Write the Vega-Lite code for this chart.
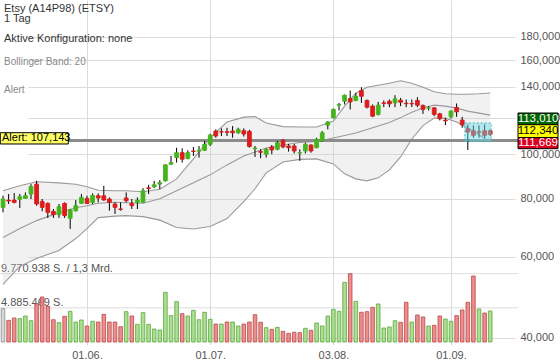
{
  "$schema": "https://vega.github.io/schema/vega-lite/v6.json",
  "width": 518,
  "height": 345,
  "autosize": "none",
  "padding": {"left": 0, "top": 0, "right": 42, "bottom": 17},
  "background": "white",
  "config": {
    "font": "Liberation Sans",
    "view": {"stroke": null},
    "locale": {"number": {"decimal": ",", "thousands": ".", "grouping": [3], "currency": ["", " €"]}},
    "axis": {"labelFont": "Liberation Sans", "labelFontSize": 11, "labelColor": "#555555", "gridColor": "#dcdcdc", "domain": false, "ticks": false, "title": null},
    "scale": {"round": false}
  },
  "title": {
    "text": ["Etsy (A14P98) (ETSY)", "1 Tag", "\u200b", "Aktive Konfiguration: none"],
    "subtitle": ["Bollinger Band: 20", "\u200b", "\u200b", "Alert"],
    "anchor": "start", "frame": "group", "orient": "top", "offset": -95, "dx": 4,
    "fontSize": 11, "fontWeight": "normal", "color": "#333333", "lineHeight": 10,
    "subtitleFontSize": 10, "subtitleColor": "#888888", "subtitleLineHeight": 9.5, "subtitlePadding": 13
  },
  "datasets": {
    "candles": [
      {"d":"2020-05-08","o":76.69,"h":81.29,"l":74.82,"c":79.97,"v":4760000,"dir":"up","vdir":"flat"},
      {"d":"2020-05-11","o":79.57,"h":81.98,"l":78.0,"c":79.17,"v":3100000,"dir":"down","vdir":"down"},
      {"d":"2020-05-12","o":79.57,"h":82.39,"l":78.24,"c":78.63,"v":3430000,"dir":"down","vdir":"down"},
      {"d":"2020-05-13","o":79.81,"h":81.98,"l":76.47,"c":80.89,"v":3340000,"dir":"up","vdir":"up"},
      {"d":"2020-05-14","o":80.21,"h":82.64,"l":79.97,"c":81.29,"v":3720000,"dir":"up","vdir":"up"},
      {"d":"2020-05-15","o":81.98,"h":86.14,"l":79.97,"c":85.13,"v":3050000,"dir":"up","vdir":"up"},
      {"d":"2020-05-18","o":86.14,"h":87.57,"l":77.35,"c":78.0,"v":5480000,"dir":"down","vdir":"down"},
      {"d":"2020-05-19","o":79.02,"h":79.97,"l":75.19,"c":76.69,"v":6440000,"dir":"down","vdir":"down"},
      {"d":"2020-05-20","o":78.24,"h":78.63,"l":72.77,"c":74.82,"v":5100000,"dir":"down","vdir":"down"},
      {"d":"2020-05-21","o":75.19,"h":76.09,"l":72.77,"c":73.97,"v":3190000,"dir":"down","vdir":"down"},
      {"d":"2020-05-22","o":73.97,"h":78.0,"l":72.77,"c":76.96,"v":2770000,"dir":"up","vdir":"up"},
      {"d":"2020-05-26","o":78.24,"h":78.63,"l":72.77,"c":73.6,"v":3670000,"dir":"down","vdir":"down"},
      {"d":"2020-05-27","o":72.63,"h":76.09,"l":68.9,"c":75.72,"v":4390000,"dir":"up","vdir":"up"},
      {"d":"2020-05-28","o":75.45,"h":79.57,"l":75.08,"c":77.35,"v":2860000,"dir":"up","vdir":"up"},
      {"d":"2020-05-29","o":78.24,"h":81.98,"l":78.0,"c":80.61,"v":3150000,"dir":"up","vdir":"up"},
      {"d":"2020-06-01","o":80.21,"h":81.29,"l":78.0,"c":78.24,"v":2290000,"dir":"down","vdir":"down"},
      {"d":"2020-06-02","o":78.63,"h":82.23,"l":78.0,"c":81.41,"v":2960000,"dir":"up","vdir":"up"},
      {"d":"2020-06-03","o":81.29,"h":82.23,"l":78.63,"c":80.37,"v":2860000,"dir":"down","vdir":"down"},
      {"d":"2020-06-04","o":81.29,"h":85.42,"l":79.29,"c":79.57,"v":3960000,"dir":"down","vdir":"down"},
      {"d":"2020-06-05","o":79.97,"h":80.61,"l":75.45,"c":78.63,"v":2860000,"dir":"down","vdir":"down"},
      {"d":"2020-06-08","o":78.0,"h":78.63,"l":74.23,"c":76.69,"v":2860000,"dir":"down","vdir":"down"},
      {"d":"2020-06-09","o":76.09,"h":78.63,"l":75.45,"c":75.94,"v":2190000,"dir":"down","vdir":"down"},
      {"d":"2020-06-10","o":80.37,"h":82.64,"l":78.63,"c":79.29,"v":4340000,"dir":"down","vdir":"up"},
      {"d":"2020-06-11","o":78.24,"h":79.97,"l":76.09,"c":77.35,"v":3720000,"dir":"down","vdir":"down"},
      {"d":"2020-06-12","o":78.63,"h":80.61,"l":76.09,"c":79.57,"v":2530000,"dir":"up","vdir":"up"},
      {"d":"2020-06-15","o":78.63,"h":84.45,"l":78.51,"c":83.33,"v":4200000,"dir":"up","vdir":"up"},
      {"d":"2020-06-16","o":84.58,"h":85.85,"l":81.98,"c":84.29,"v":2530000,"dir":"down","vdir":"up"},
      {"d":"2020-06-17","o":85.0,"h":87.57,"l":84.45,"c":85.85,"v":1860000,"dir":"up","vdir":"up"},
      {"d":"2020-06-18","o":86.14,"h":87.87,"l":84.03,"c":86.83,"v":1720000,"dir":"up","vdir":"up"},
      {"d":"2020-06-19","o":87.57,"h":95.15,"l":87.27,"c":94.82,"v":7110000,"dir":"up","vdir":"up"},
      {"d":"2020-06-22","o":95.15,"h":99.16,"l":94.82,"c":95.91,"v":3770000,"dir":"up","vdir":"up"},
      {"d":"2020-06-23","o":98.33,"h":103.33,"l":95.91,"c":100.79,"v":5770000,"dir":"up","vdir":"up"},
      {"d":"2020-06-24","o":100.79,"h":103.03,"l":95.91,"c":97.55,"v":4050000,"dir":"down","vdir":"down"},
      {"d":"2020-06-25","o":97.84,"h":102.01,"l":97.55,"c":100.79,"v":3720000,"dir":"up","vdir":"up"},
      {"d":"2020-06-26","o":101.65,"h":103.69,"l":99.16,"c":101.4,"v":4530000,"dir":"down","vdir":"up"},
      {"d":"2020-06-29","o":101.5,"h":104.21,"l":98.33,"c":102.01,"v":3190000,"dir":"up","vdir":"up"},
      {"d":"2020-06-30","o":102.01,"h":106.83,"l":101.65,"c":105.09,"v":4250000,"dir":"up","vdir":"up"},
      {"d":"2020-07-01","o":105.09,"h":110.77,"l":104.21,"c":110.06,"v":3240000,"dir":"up","vdir":"up"},
      {"d":"2020-07-02","o":112.27,"h":113.23,"l":108.59,"c":109.52,"v":2570000,"dir":"down","vdir":"down"},
      {"d":"2020-07-06","o":111.88,"h":113.79,"l":109.52,"c":111.71,"v":2570000,"dir":"down","vdir":"up"},
      {"d":"2020-07-07","o":111.88,"h":114.13,"l":109.52,"c":111.54,"v":2860000,"dir":"down","vdir":"down"},
      {"d":"2020-07-08","o":112.27,"h":115.1,"l":108.59,"c":111.32,"v":2860000,"dir":"down","vdir":"up"},
      {"d":"2020-07-09","o":111.32,"h":114.13,"l":110.77,"c":113.23,"v":2290000,"dir":"up","vdir":"up"},
      {"d":"2020-07-10","o":112.49,"h":113.79,"l":109.24,"c":110.61,"v":2570000,"dir":"down","vdir":"down"},
      {"d":"2020-07-13","o":112.1,"h":112.94,"l":103.33,"c":103.95,"v":2860000,"dir":"down","vdir":"down"},
      {"d":"2020-07-14","o":102.82,"h":104.21,"l":98.67,"c":103.18,"v":3910000,"dir":"up","vdir":"down"},
      {"d":"2020-07-15","o":101.3,"h":102.52,"l":98.03,"c":101.0,"v":2820000,"dir":"down","vdir":"down"},
      {"d":"2020-07-16","o":100.0,"h":103.03,"l":98.33,"c":102.52,"v":2050000,"dir":"up","vdir":"up"},
      {"d":"2020-07-17","o":103.69,"h":104.73,"l":100.0,"c":102.16,"v":1810000,"dir":"down","vdir":"down"},
      {"d":"2020-07-20","o":102.52,"h":106.83,"l":102.01,"c":105.93,"v":2100000,"dir":"up","vdir":"up"},
      {"d":"2020-07-21","o":107.2,"h":107.74,"l":103.03,"c":103.69,"v":1530000,"dir":"down","vdir":"down"},
      {"d":"2020-07-22","o":104.21,"h":105.3,"l":101.3,"c":103.33,"v":1240000,"dir":"down","vdir":"down"},
      {"d":"2020-07-23","o":104.21,"h":105.3,"l":100.39,"c":101.65,"v":1390000,"dir":"down","vdir":"down"},
      {"d":"2020-07-24","o":100.64,"h":102.52,"l":96.72,"c":100.79,"v":1340000,"dir":"up","vdir":"down"},
      {"d":"2020-07-27","o":101.65,"h":105.93,"l":100.39,"c":105.09,"v":1960000,"dir":"up","vdir":"up"},
      {"d":"2020-07-28","o":104.73,"h":105.09,"l":100.79,"c":101.65,"v":1670000,"dir":"down","vdir":"down"},
      {"d":"2020-07-29","o":103.33,"h":108.59,"l":103.03,"c":107.74,"v":2720000,"dir":"up","vdir":"up"},
      {"d":"2020-07-30","o":106.83,"h":112.27,"l":106.46,"c":111.32,"v":2290000,"dir":"up","vdir":"up"},
      {"d":"2020-07-31","o":115.67,"h":117.99,"l":113.23,"c":117.41,"v":3720000,"dir":"up","vdir":"up"},
      {"d":"2020-08-03","o":119.95,"h":125.68,"l":119.59,"c":125.06,"v":4670000,"dir":"up","vdir":"up"},
      {"d":"2020-08-04","o":127.76,"h":129.22,"l":124.44,"c":128.2,"v":4390000,"dir":"up","vdir":"up"},
      {"d":"2020-08-05","o":130.32,"h":134.74,"l":128.2,"c":134.27,"v":8540000,"dir":"up","vdir":"up"},
      {"d":"2020-08-06","o":132.09,"h":137.43,"l":125.06,"c":129.86,"v":9770938,"dir":"down","vdir":"down"},
      {"d":"2020-08-07","o":130.79,"h":135.83,"l":130.32,"c":133.61,"v":5820000,"dir":"up","vdir":"up"},
      {"d":"2020-08-10","o":137.43,"h":139.71,"l":129.22,"c":133.61,"v":4250000,"dir":"down","vdir":"down"},
      {"d":"2020-08-11","o":130.79,"h":131.44,"l":125.68,"c":126.5,"v":4340000,"dir":"down","vdir":"down"},
      {"d":"2020-08-12","o":127.13,"h":128.2,"l":120.36,"c":120.96,"v":4960000,"dir":"down","vdir":"down"},
      {"d":"2020-08-13","o":121.99,"h":129.86,"l":121.38,"c":127.76,"v":5440000,"dir":"up","vdir":"up"},
      {"d":"2020-08-14","o":129.22,"h":130.79,"l":126.5,"c":128.84,"v":2000000,"dir":"down","vdir":"up"},
      {"d":"2020-08-17","o":130.32,"h":131.44,"l":126.5,"c":128.58,"v":2150000,"dir":"down","vdir":"up"},
      {"d":"2020-08-18","o":129.22,"h":134.27,"l":126.5,"c":131.84,"v":3050000,"dir":"up","vdir":"up"},
      {"d":"2020-08-19","o":130.99,"h":132.49,"l":127.13,"c":129.67,"v":2820000,"dir":"down","vdir":"down"},
      {"d":"2020-08-20","o":129.03,"h":131.44,"l":126.5,"c":128.71,"v":5680000,"dir":"down","vdir":"down"},
      {"d":"2020-08-21","o":128.84,"h":131.44,"l":126.5,"c":128.58,"v":2860000,"dir":"down","vdir":"up"},
      {"d":"2020-08-24","o":130.79,"h":132.95,"l":126.5,"c":127.76,"v":3860000,"dir":"down","vdir":"down"},
      {"d":"2020-08-25","o":127.57,"h":128.2,"l":122.34,"c":125.06,"v":3580000,"dir":"down","vdir":"down"},
      {"d":"2020-08-26","o":125.87,"h":127.13,"l":124.44,"c":126.06,"v":2290000,"dir":"up","vdir":"up"},
      {"d":"2020-08-27","o":126.06,"h":126.5,"l":120.96,"c":121.99,"v":2390000,"dir":"down","vdir":"down"},
      {"d":"2020-08-28","o":122.34,"h":122.95,"l":118.4,"c":119.35,"v":3720000,"dir":"down","vdir":"down"},
      {"d":"2020-08-31","o":118.58,"h":119.95,"l":115.67,"c":118.17,"v":3290000,"dir":"down","vdir":"up"},
      {"d":"2020-09-01","o":120.54,"h":124.44,"l":119.59,"c":124.06,"v":2960000,"dir":"up","vdir":"up"},
      {"d":"2020-09-02","o":126.31,"h":128.84,"l":120.54,"c":123.57,"v":3770000,"dir":"down","vdir":"down"},
      {"d":"2020-09-03","o":118.58,"h":120.54,"l":114.13,"c":115.84,"v":4580000,"dir":"down","vdir":"down"},
      {"d":"2020-09-04","o":113.57,"h":116.02,"l":102.16,"c":111.71,"v":5680000,"dir":"down","vdir":"down"},
      {"d":"2020-09-08","o":112.44,"h":115.44,"l":108.59,"c":109.9,"v":9440000,"dir":"down","vdir":"down"},
      {"d":"2020-09-09","o":111.82,"h":115.44,"l":108.59,"c":111.6,"v":4720000,"dir":"down","vdir":"up"},
      {"d":"2020-09-10","o":112.44,"h":116.02,"l":108.59,"c":109.9,"v":4150000,"dir":"down","vdir":"down"},
      {"d":"2020-09-11","o":112.44,"h":113.23,"l":109.52,"c":110.44,"v":4430000,"dir":"down","vdir":"up"}
    ],
    "bands": [
      {"d":"2020-05-08","up":83.33,"mid":65.97,"lo":52.24},
      {"d":"2020-05-13","up":85.42,"mid":69.0,"lo":57.13},
      {"d":"2020-05-18","up":87.14,"mid":71.79,"lo":59.44},
      {"d":"2020-05-22","up":86.7,"mid":74.71,"lo":61.85},
      {"d":"2020-05-28","up":86.06,"mid":76.58,"lo":65.65},
      {"d":"2020-06-01","up":85.0,"mid":77.35,"lo":69.0},
      {"d":"2020-06-03","up":83.54,"mid":78.32,"lo":72.88},
      {"d":"2020-06-08","up":83.33,"mid":78.7,"lo":73.42},
      {"d":"2020-06-10","up":83.33,"mid":78.51,"lo":73.6},
      {"d":"2020-06-15","up":82.92,"mid":78.32,"lo":73.24},
      {"d":"2020-06-18","up":83.95,"mid":80.09,"lo":71.97},
      {"d":"2020-06-23","up":88.44,"mid":83.33,"lo":69.34},
      {"d":"2020-06-26","up":97.69,"mid":86.7,"lo":68.83},
      {"d":"2020-07-01","up":108.7,"mid":90.22,"lo":69.69},
      {"d":"2020-07-07","up":117.41,"mid":94.82,"lo":72.52},
      {"d":"2020-07-10","up":120.36,"mid":99.16,"lo":78.9},
      {"d":"2020-07-14","up":120.66,"mid":101.15,"lo":84.16},
      {"d":"2020-07-16","up":116.83,"mid":103.18,"lo":91.12},
      {"d":"2020-07-21","up":114.81,"mid":104.73,"lo":96.24},
      {"d":"2020-07-24","up":114.53,"mid":106.03,"lo":97.45},
      {"d":"2020-07-29","up":114.53,"mid":106.56,"lo":97.69},
      {"d":"2020-08-03","up":117.99,"mid":108.43,"lo":95.29},
      {"d":"2020-08-05","up":127.13,"mid":109.79,"lo":90.67},
      {"d":"2020-08-07","up":135.61,"mid":111.16,"lo":88.44},
      {"d":"2020-08-11","up":139.71,"mid":113.11,"lo":87.57},
      {"d":"2020-08-13","up":141.1,"mid":115.1,"lo":88.88},
      {"d":"2020-08-17","up":142.51,"mid":117.12,"lo":92.49},
      {"d":"2020-08-19","up":144.29,"mid":120.06,"lo":98.67},
      {"d":"2020-08-21","up":142.51,"mid":123.38,"lo":107.9},
      {"d":"2020-08-25","up":139.71,"mid":126.18,"lo":115.38},
      {"d":"2020-08-27","up":136.62,"mid":127.76,"lo":119.77},
      {"d":"2020-08-31","up":135.27,"mid":127.13,"lo":119.77},
      {"d":"2020-09-02","up":134.94,"mid":125.87,"lo":117.41},
      {"d":"2020-09-04","up":134.94,"mid":124.0,"lo":113.96},
      {"d":"2020-09-09","up":135.27,"mid":122.77,"lo":110.06},
      {"d":"2020-09-11","up":135.81,"mid":121.56,"lo":106.3}
    ],
    "vlevels": [
      {"lvl": 4885469, "txt": "4.885.469 S."},
      {"lvl": 9770938, "txt": "9.770.938 S. / 1,3 Mrd."}
    ]
  },
  "layer": [
    {
      "layer": [
        {
          "data": {"name": "vlevels"},
          "mark": {"type": "rule", "color": "#dcdcdc", "strokeWidth": 1},
          "encoding": {
            "y": {"field": "lvl", "type": "quantitative", "scale": {"domain": [-429181, 48926619], "nice": false, "zero": false}, "axis": null}
          }
        },
        {
          "data": {"name": "vlevels"},
          "mark": {"type": "text", "align": "left", "baseline": "alphabetic", "dy": -2, "dx": -2, "fontSize": 11, "color": "#555555"},
          "encoding": {
            "x": {"datum": "2020-05-08", "type": "ordinal"},
            "y": {"field": "lvl", "type": "quantitative", "scale": {"domain": [-429181, 48926619], "nice": false, "zero": false}, "axis": null},
            "text": {"field": "txt"}
          }
        },
        {
          "data": {"name": "candles"},
          "mark": {"type": "bar", "size": 3.6, "strokeWidth": 0.8, "fillOpacity": 0.85},
          "encoding": {
            "x": {"field": "d", "type": "ordinal", "sort": "ascending"},
            "y": {"field": "v", "type": "quantitative", "scale": {"domain": [-429181, 48926619], "nice": false, "zero": false}, "axis": null},
            "y2": {"datum": 0},
            "fill": {"field": "vdir", "type": "nominal", "scale": {"domain": ["up", "down", "flat"], "range": ["#9cd97e", "#e87a7a", "#d0d0d0"]}, "legend": null},
            "stroke": {"field": "vdir", "type": "nominal", "scale": {"domain": ["up", "down", "flat"], "range": ["#5aa63c", "#bb4848", "#8a8a8a"]}, "legend": null}
          }
        }
      ]
    },
    {
      "layer": [
        {
          "data": {"name": "bands"},
          "mark": {"type": "area", "fill": "#d0d0d0", "fillOpacity": 0.3},
          "encoding": {
            "x": {"field": "d", "type": "ordinal", "sort": "ascending"},
            "y": {"field": "lo", "type": "quantitative", "scale": {"type": "log", "domain": [38.583, 215.99], "nice": false}, "axis": {"orient": "right", "values": [40, 60, 80, 100, 120, 140, 160, 180], "format": ".3f", "grid": true, "labelPadding": 2}},
            "y2": {"field": "up"}
          }
        },
        {
          "data": {"name": "bands"},
          "mark": {"type": "line", "color": "#9a9a9a", "strokeWidth": 1.1},
          "encoding": {
            "x": {"field": "d", "type": "ordinal", "sort": "ascending"},
            "y": {"field": "up", "type": "quantitative", "scale": {"type": "log", "domain": [38.583, 215.99], "nice": false}}
          }
        },
        {
          "data": {"name": "bands"},
          "mark": {"type": "line", "color": "#9a9a9a", "strokeWidth": 1.1},
          "encoding": {
            "x": {"field": "d", "type": "ordinal", "sort": "ascending"},
            "y": {"field": "mid", "type": "quantitative", "scale": {"type": "log", "domain": [38.583, 215.99], "nice": false}}
          }
        },
        {
          "data": {"name": "bands"},
          "mark": {"type": "line", "color": "#9a9a9a", "strokeWidth": 1.1},
          "encoding": {
            "x": {"field": "d", "type": "ordinal", "sort": "ascending"},
            "y": {"field": "lo", "type": "quantitative", "scale": {"type": "log", "domain": [38.583, 215.99], "nice": false}}
          }
        },
        {
          "data": {"values": [{}]},
          "mark": {"type": "rule", "color": "#8c8c8c", "strokeWidth": 3},
          "encoding": {
            "y": {"datum": 107.143, "type": "quantitative", "scale": {"type": "log", "domain": [38.583, 215.99], "nice": false}}
          }
        },
        {
          "data": {"name": "candles"},
          "mark": {"type": "rule", "color": "#000000", "strokeWidth": 1},
          "encoding": {
            "x": {"field": "d", "type": "ordinal", "sort": "ascending", "scale": {"type": "point", "range": [3, 490.2], "padding": 0, "round": false},
              "axis": {"values": ["2020-06-01", "2020-07-01", "2020-08-03", "2020-09-01"], "labelExpr": "substring(datum.value, 8, 10) + '.' + substring(datum.value, 5, 7) + '.'", "labelAngle": 0, "labelAlign": "center", "labelBaseline": "top", "grid": true, "labelPadding": 4}},
            "y": {"field": "l", "type": "quantitative", "scale": {"type": "log", "domain": [38.583, 215.99], "nice": false}},
            "y2": {"field": "h"}
          }
        },
        {
          "data": {"name": "candles"},
          "mark": {"type": "bar", "size": 3.8, "strokeWidth": 0.9},
          "encoding": {
            "x": {"field": "d", "type": "ordinal", "sort": "ascending"},
            "y": {"field": "o", "type": "quantitative", "scale": {"type": "log", "domain": [38.583, 215.99], "nice": false}},
            "y2": {"field": "c"},
            "fill": {"field": "dir", "type": "nominal", "scale": {"domain": ["up", "down"], "range": ["#43b51c", "#dd1c1c"]}, "legend": null},
            "stroke": {"field": "dir", "type": "nominal", "scale": {"domain": ["up", "down"], "range": ["#43b51c", "#dd1c1c"]}, "legend": null}
          }
        },
        {
          "data": {"values": [{}]},
          "mark": {"type": "rect", "fill": "#66dbe8", "fillOpacity": 0.45, "stroke": "#3fb6c6", "strokeDash": [2, 2], "strokeWidth": 1, "xOffset": -3, "x2Offset": 1},
          "encoding": {
            "x": {"datum": "2020-09-04", "type": "ordinal"},
            "x2": {"datum": "2020-09-11"},
            "y": {"datum": 116.88, "type": "quantitative", "scale": {"type": "log", "domain": [38.583, 215.99], "nice": false}},
            "y2": {"datum": 106.68}
          }
        },
        {
          "data": {"values": [{}]},
          "mark": {"type": "bar", "size": 68, "xOffset": 31.3, "fill": "#ffff66", "stroke": "#000000", "strokeWidth": 1},
          "encoding": {
            "x": {"datum": "2020-05-08", "type": "ordinal"},
            "y": {"datum": 111.35, "type": "quantitative", "scale": {"type": "log", "domain": [38.583, 215.99], "nice": false}},
            "y2": {"datum": 105.25}
          }
        },
        {
          "data": {"values": [{}]},
          "mark": {"type": "text", "align": "left", "baseline": "middle", "dx": -1, "dy": -2, "fontSize": 11, "color": "#000000"},
          "encoding": {
            "x": {"datum": "2020-05-08", "type": "ordinal"},
            "y": {"datum": 107.143, "type": "quantitative", "scale": {"type": "log", "domain": [38.583, 215.99], "nice": false}},
            "text": {"value": "Alert: 107,143"}
          }
        },
        {
          "data": {"values": [{}]},
          "mark": {"type": "bar", "size": 40, "xOffset": 47.8, "fill": "#006400", "stroke": "#000000", "strokeWidth": 1},
          "encoding": {
            "x": {"datum": "2020-09-11", "type": "ordinal"},
            "y": {"datum": 122.86, "type": "quantitative", "scale": {"type": "log", "domain": [38.583, 215.99], "nice": false}},
            "y2": {"datum": 115.89}
          }
        },
        {
          "data": {"values": [{}]},
          "mark": {"type": "bar", "size": 40, "xOffset": 47.8, "fill": "#ffff00", "stroke": "#000000", "strokeWidth": 1},
          "encoding": {
            "x": {"datum": "2020-09-11", "type": "ordinal"},
            "y": {"datum": 115.89, "type": "quantitative", "scale": {"type": "log", "domain": [38.583, 215.99], "nice": false}},
            "y2": {"datum": 108.62}
          }
        },
        {
          "data": {"values": [{}]},
          "mark": {"type": "bar", "size": 40, "xOffset": 47.8, "fill": "#dc001e", "stroke": "#000000", "strokeWidth": 1},
          "encoding": {
            "x": {"datum": "2020-09-11", "type": "ordinal"},
            "y": {"datum": 108.62, "type": "quantitative", "scale": {"type": "log", "domain": [38.583, 215.99], "nice": false}},
            "y2": {"datum": 102.81}
          }
        },
        {
          "data": {"values": [{}]},
          "mark": {"type": "text", "align": "center", "baseline": "middle", "dx": 47.8, "fontSize": 11.5, "color": "#ffffff"},
          "encoding": {
            "x": {"datum": "2020-09-11", "type": "ordinal"},
            "y": {"datum": 119.32, "type": "quantitative", "scale": {"type": "log", "domain": [38.583, 215.99], "nice": false}},
            "text": {"value": "113,010"}
          }
        },
        {
          "data": {"values": [{}]},
          "mark": {"type": "text", "align": "center", "baseline": "middle", "dx": 47.8, "fontSize": 11.5, "color": "#000000"},
          "encoding": {
            "x": {"datum": "2020-09-11", "type": "ordinal"},
            "y": {"datum": 112.18, "type": "quantitative", "scale": {"type": "log", "domain": [38.583, 215.99], "nice": false}},
            "text": {"value": "112,340"}
          }
        },
        {
          "data": {"values": [{}]},
          "mark": {"type": "text", "align": "center", "baseline": "middle", "dx": 47.8, "fontSize": 11.5, "color": "#ffffff"},
          "encoding": {
            "x": {"datum": "2020-09-11", "type": "ordinal"},
            "y": {"datum": 105.67, "type": "quantitative", "scale": {"type": "log", "domain": [38.583, 215.99], "nice": false}},
            "text": {"value": "111,669"}
          }
        }
      ]
    }
  ],
  "resolve": {"scale": {"y": "independent", "fill": "independent", "stroke": "independent"}, "axis": {"y": "independent"}}
}
